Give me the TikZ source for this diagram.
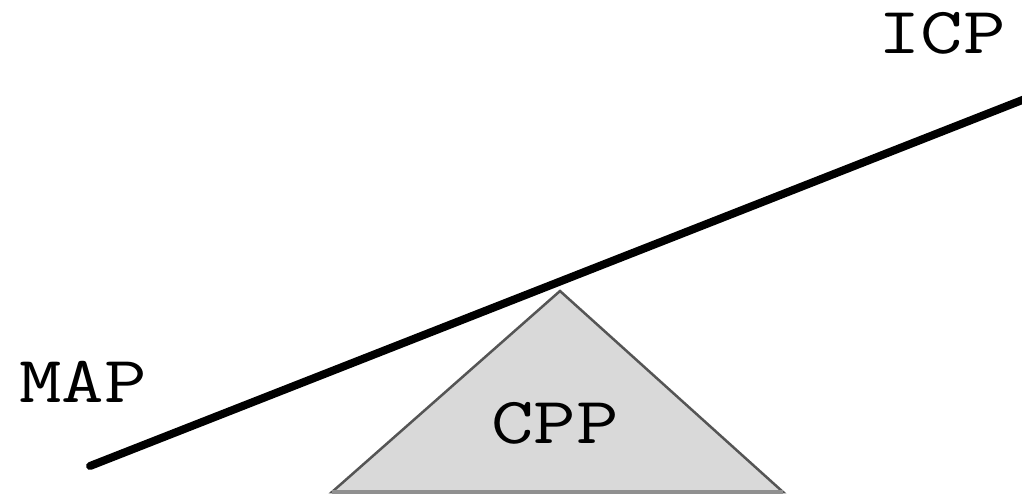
\documentclass[tikz,border=0pt]{standalone}
\usepackage{tikz}
\definecolor{pivotfill}{HTML}{D9D9D9}
\definecolor{pivotedge}{HTML}{555555}
\definecolor{pivotbase}{HTML}{909090}
\tikzset{
  lbl/.style={anchor=base,inner sep=0pt,font=\ttfamily\fontsize{66}{76}\selectfont},
  beam/.style={line width=8pt,line cap=round},
  pivot/.style={fill=pivotfill,draw=pivotedge,line width=2.5pt,line join=miter},
  pbase/.style={draw=pivotbase,line width=4pt}
}
\newcommand{\wide}[1]{\scalebox{1.25}[1]{#1}}

\begin{document}
\begin{tikzpicture}[x=1pt,y=-1pt]
\useasboundingbox (0,0) rectangle (1022,498);
\coordinate (tl) at (332,492); \coordinate (tr) at (783,492); \coordinate (tp) at (560,291);
\filldraw[pivot] (tl) -- (tp) -- (tr) -- cycle;
\draw[pbase] (tl) -- (tr);
\coordinate (bl) at (90,466); \coordinate (br) at (1030,97);
\draw[beam] (bl) -- (br);
\node[lbl] (map) at (83,402) {\wide{MAP}};
\node[lbl] (icp) at (942,53) {\wide{ICP}};
\node[lbl] (cpp) at (555,443) {\wide{CPP}};
\end{tikzpicture}
\end{document}
